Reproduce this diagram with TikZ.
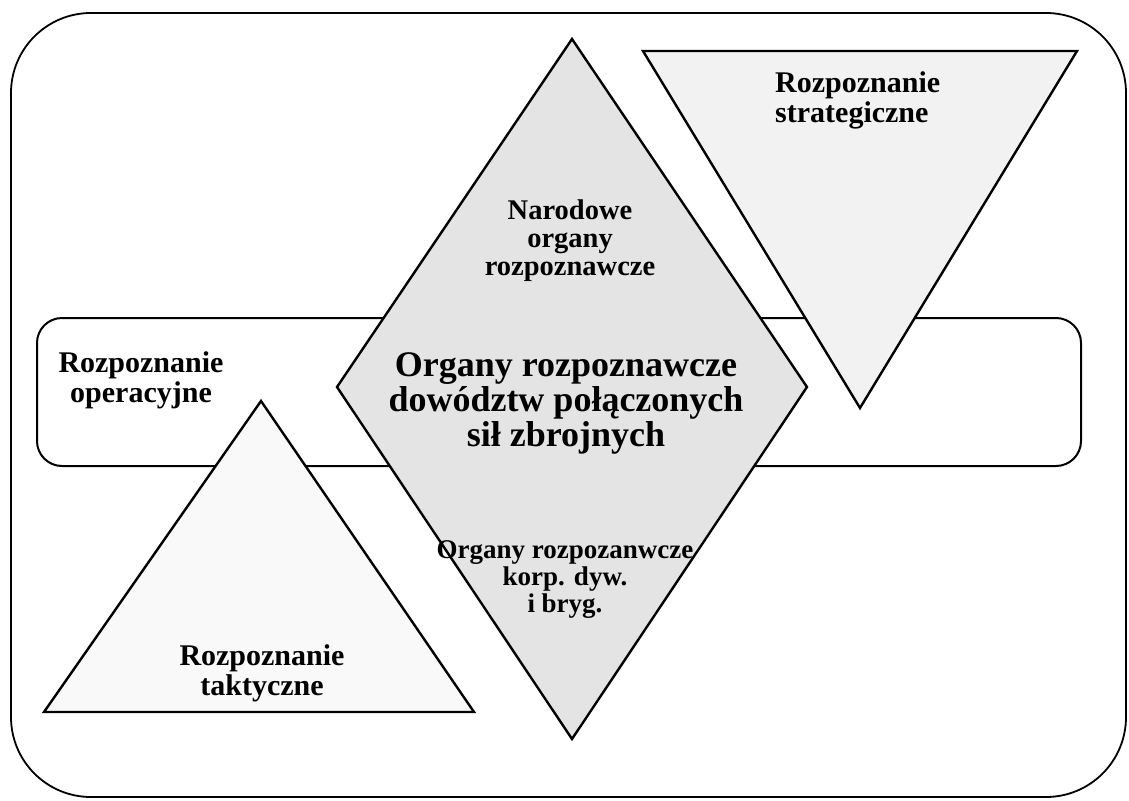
\documentclass[tikz,border=0pt]{standalone}
\usepackage{fontspec}
\setmainfont{Liberation Serif}
\begin{document}
\begin{tikzpicture}[x=1pt,y=-1pt,
  frame/.style={draw=black,line width=1.8pt},
  shapeline/.style={draw=black,line width=2.4pt,line join=miter},
  lbl/.style={font=\bfseries\fontsize{30}{30}\selectfont,align=center,inner sep=0pt},
  midlbl/.style={font=\bfseries\fontsize{28.5}{28}\selectfont,align=center,inner sep=0pt},
  smalllbl/.style={font=\bfseries\fontsize{27}{27}\selectfont,align=center,inner sep=0pt},
  biglbl/.style={font=\bfseries\fontsize{36}{35}\selectfont,align=center,inner sep=0pt}]
\useasboundingbox (0,0) rectangle (1129,800);
% outer frame
\draw[frame,rounded corners=80pt] (11,13) rectangle (1126,797);
% middle band
\draw[shapeline,line width=2pt,rounded corners=25pt] (37,318) rectangle (1081,466);
% inverted triangle (strategic)
\coordinate (s1) at (643,51);
\coordinate (s2) at (1077,51);
\coordinate (s3) at (860,408);
\filldraw[shapeline,fill=gray!10] (s1) -- (s2) -- (s3) -- cycle;
% triangle (tactical)
\coordinate (t1) at (261,401);
\coordinate (t2) at (474,712);
\coordinate (t3) at (44,712);
\filldraw[shapeline,fill=gray!5] (t1) -- (t2) -- (t3) -- cycle;
% diamond
\coordinate (d1) at (572,39);
\coordinate (d2) at (807,387);
\coordinate (d3) at (572,739);
\coordinate (d4) at (337,387);
\filldraw[shapeline,fill=gray!21] (d1) -- (d2) -- (d3) -- (d4) -- cycle;
% labels
\node[lbl,align=left,anchor=west] (strat) at (775,100) {Rozpoznanie\\strategiczne};
\node[midlbl] (narod) at (570,241) {Narodowe\\organy\\rozpoznawcze};
\node[biglbl] (dowodztw) at (566,403) {Organy rozpoznawcze\\dowództw połączonych\\sił zbrojnych};
\node[smalllbl] (korp) at (565,580) {Organy rozpozanwcze\\korp. dyw.\\i bryg.};
\node[lbl] (oper) at (141,380) {Rozpoznanie\\operacyjne};
\node[lbl] (takt) at (262,673) {Rozpoznanie\\taktyczne};
\end{tikzpicture}
\end{document}
